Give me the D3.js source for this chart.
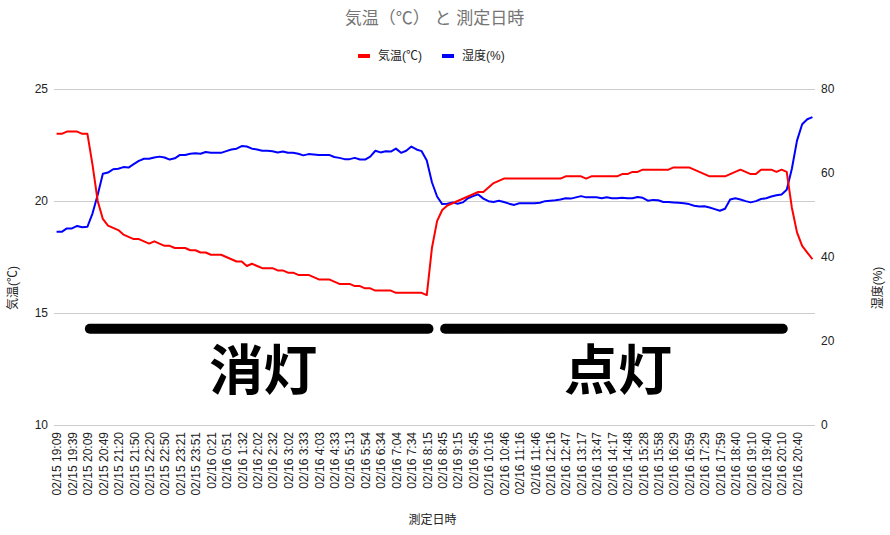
<!DOCTYPE html>
<html>
<head>
<meta charset="utf-8">
<script src="https://cdn.jsdelivr.net/npm/d3@7"></script>
<style>
  body { margin: 0; background: #fff; }
  text { font-family: Arial, "Liberation Sans", "Noto Sans CJK JP", sans-serif; }
</style>
</head>
<body>
<svg id="chart" width="890" height="535"></svg>
<script>
// every 3rd sample is labelled on the x axis
const tickLabels = ['02/15 19:09','02/15 19:39','02/15 20:09','02/15 20:49','02/15 21:20','02/15 21:50',
  '02/15 22:20','02/15 22:50','02/15 23:21','02/15 23:51','02/16 0:21','02/16 0:51','02/16 1:32',
  '02/16 2:02','02/16 2:32','02/16 3:02','02/16 3:33','02/16 4:03','02/16 4:33','02/16 5:13',
  '02/16 5:54','02/16 6:34','02/16 7:04','02/16 7:34','02/16 8:15','02/16 8:45','02/16 9:15',
  '02/16 9:45','02/16 10:16','02/16 10:46','02/16 11:16','02/16 11:46','02/16 12:16','02/16 12:47',
  '02/16 13:17','02/16 13:47','02/16 14:17','02/16 14:48','02/16 15:28','02/16 15:58','02/16 16:29',
  '02/16 16:59','02/16 17:29','02/16 17:59','02/16 18:40','02/16 19:10','02/16 19:40','02/16 20:10',
  '02/16 20:40'];
const labelStep = 3;

// 気温(℃)
const temperature = [
  23.0,23.0,23.1,23.1,23.1,23.0,23.0,21.6,20.0,19.2,
  18.9,18.8,18.7,18.5,18.4,18.3,18.3,18.2,18.1,18.2,
  18.1,18.0,18.0,17.9,17.9,17.9,17.8,17.8,17.7,17.7,
  17.6,17.6,17.6,17.5,17.4,17.3,17.3,17.1,17.2,17.1,
  17.0,17.0,17.0,16.9,16.9,16.8,16.8,16.7,16.7,16.7,
  16.6,16.5,16.5,16.5,16.4,16.3,16.3,16.3,16.2,16.2,
  16.1,16.1,16.0,16.0,16.0,16.0,15.9,15.9,15.9,15.9,
  15.9,15.9,15.8,17.9,19.1,19.6,19.8,19.9,20.0,20.1,
  20.2,20.3,20.4,20.4,20.6,20.8,20.9,21.0,21.0,21.0,
  21.0,21.0,21.0,21.0,21.0,21.0,21.0,21.0,21.0,21.1,
  21.1,21.1,21.1,21.0,21.1,21.1,21.1,21.1,21.1,21.1,
  21.2,21.2,21.3,21.3,21.4,21.4,21.4,21.4,21.4,21.4,
  21.5,21.5,21.5,21.5,21.4,21.3,21.2,21.1,21.1,21.1,
  21.1,21.2,21.3,21.4,21.3,21.2,21.2,21.4,21.4,21.4,
  21.3,21.4,21.3,19.7,18.6,18.0,17.7,17.4];

// 湿度(%)
const humidity = [
  46.0,46.0,46.8,46.8,47.4,47.1,47.2,50.4,54.8,59.8,
  60.1,60.9,61.0,61.4,61.3,62.1,62.9,63.4,63.4,63.7,
  63.9,63.7,63.2,63.5,64.3,64.3,64.6,64.7,64.6,65.0,
  64.8,64.8,64.8,65.2,65.6,65.8,66.4,66.3,65.8,65.6,
  65.3,65.3,65.2,64.9,65.1,64.8,64.8,64.6,64.2,64.5,
  64.4,64.3,64.3,64.3,63.8,63.6,63.3,63.3,63.6,63.2,
  63.2,63.9,65.3,64.9,65.2,65.1,65.8,64.8,65.3,66.3,
  65.6,65.2,63.0,57.8,54.4,52.6,52.7,53.0,52.7,53.0,
  54.0,54.5,54.9,53.9,53.3,53.1,53.4,53.1,52.7,52.4,
  52.8,52.8,52.8,52.8,52.9,53.3,53.4,53.5,53.7,54.0,
  53.9,54.2,54.5,54.2,54.2,54.2,54.0,54.2,54.0,54.0,
  54.1,54.0,54.0,54.3,54.1,53.4,53.6,53.5,53.1,53.1,
  53.0,52.9,52.8,52.6,52.2,52.0,52.1,51.8,51.4,51.0,
  51.5,53.7,54.0,53.7,53.3,53.0,53.3,53.8,54.0,54.4,
  54.7,54.9,56.0,61.0,67.7,71.6,72.8,73.3];

const tempTicks = [10, 15, 20, 25];
const humTicks = [0, 20, 40, 60, 80];

// light-off / light-on periods, in sample index units, bar drawn at a temperature level
const periods = [
  { name: '消灯', from: 5.5, to: 73.3 },
  { name: '点灯', from: 74.6, to: 142.2 }
];
const periodBarLevel = 14.3;
const periodTextLevel = 11.55;

const svg = d3.select('#chart');
const margin = { top: 89, right: 75, bottom: 110, left: 54 };
const width = +svg.attr('width');
const height = +svg.attr('height');
const x0 = margin.left, x1 = width - margin.right;
const y0 = height - margin.bottom, y1 = margin.top;
const n = temperature.length;

const x = d3.scaleLinear().domain([-0.5, n - 0.5]).range([x0, x1]);
const yTemp = d3.scaleLinear().domain([10, 25]).range([y0, y1]);
const yHum = d3.scaleLinear().domain([0, 80]).range([y0, y1]);

// gridlines follow the left axis
svg.append('g').selectAll('line')
  .data(tempTicks)
  .join('line')
  .attr('x1', x0).attr('x2', x1)
  .attr('y1', d => yTemp(d)).attr('y2', d => yTemp(d))
  .attr('stroke', '#cccccc').attr('stroke-width', 1)
  .attr('shape-rendering', 'crispEdges');

const leftAxis = svg.append('g')
  .attr('transform', `translate(${x0},0)`)
  .call(d3.axisLeft(yTemp).tickValues(tempTicks).tickSize(0).tickPadding(6));
const rightAxis = svg.append('g')
  .attr('transform', `translate(${x1},0)`)
  .call(d3.axisRight(yHum).tickValues(humTicks).tickSize(0).tickPadding(6));

const tickIdx = tickLabels.map((_, i) => i * labelStep);
const bottomAxis = svg.append('g')
  .attr('transform', `translate(0,${y0})`)
  .call(d3.axisBottom(x).tickValues(tickIdx).tickSize(0)
    .tickFormat(d => tickLabels[d / labelStep]));
bottomAxis.selectAll('text')
  .attr('transform', 'rotate(-90)')
  .attr('x', -7).attr('y', 0).attr('dy', '0.36em')
  .style('text-anchor', 'end');

[leftAxis, rightAxis, bottomAxis].forEach(g => {
  g.select('.domain').remove();
  g.selectAll('text')
    .style('font-family', 'Arial, "Liberation Sans", sans-serif')
    .style('font-size', '12px')
    .attr('fill', '#222');
});

// series lines
const lineFor = (scale) => d3.line().x((d, i) => x(i)).y(d => scale(d));
svg.append('path').datum(humidity)
  .attr('fill', 'none').attr('stroke', '#0000ff').attr('stroke-width', 2)
  .attr('stroke-linejoin', 'round').attr('d', lineFor(yHum));
svg.append('path').datum(temperature)
  .attr('fill', 'none').attr('stroke', '#ff0000').attr('stroke-width', 2)
  .attr('stroke-linejoin', 'round').attr('d', lineFor(yTemp));

// period annotations
const pg = svg.append('g').selectAll('g').data(periods).join('g');
pg.append('rect')
  .attr('x', d => x(d.from))
  .attr('width', d => x(d.to) - x(d.from))
  .attr('y', yTemp(periodBarLevel) - 5)
  .attr('height', 10).attr('rx', 5).attr('ry', 5)
  .attr('fill', '#000');
pg.append('text')
  .attr('x', d => x((d.from + d.to) / 2) + 4)
  .attr('y', yTemp(periodTextLevel))
  .attr('text-anchor', 'middle')
  .style('font-family', '"Noto Sans CJK JP", sans-serif')
  .style('font-weight', 'bold')
  .style('font-size', '54px')
  .attr('fill', '#000')
  .text(d => d.name);

// titles
svg.append('text')
  .attr('x', (x0 + x1) / 2).attr('y', 24)
  .attr('text-anchor', 'middle')
  .style('font-size', '17px')
  .attr('fill', '#757575')
  .text('気温（℃） と 測定日時');

svg.append('text')
  .attr('x', (x0 + x1) / 2 - 2).attr('y', 524)
  .attr('text-anchor', 'middle')
  .style('font-size', '12px').attr('fill', '#222')
  .text('測定日時');

svg.append('text')
  .attr('transform', 'translate(17,288) rotate(-90)')
  .attr('text-anchor', 'middle')
  .style('font-size', '12px').attr('fill', '#222')
  .text('気温(℃)');

svg.append('text')
  .attr('transform', 'translate(882,288) rotate(-90)')
  .attr('text-anchor', 'middle')
  .style('font-size', '12px').attr('fill', '#222')
  .text('湿度(%)');

// legend
const legendItems = [
  { name: '気温(℃)', color: '#ff0000', x: 358 },
  { name: '湿度(%)', color: '#0000ff', x: 442 }
];
const lg = svg.append('g').selectAll('g').data(legendItems).join('g')
  .attr('transform', d => `translate(${d.x},0)`);
lg.append('rect')
  .attr('x', 0).attr('y', 54).attr('width', 12).attr('height', 4)
  .attr('fill', d => d.color);
lg.append('text')
  .attr('x', 20).attr('y', 60)
  .style('font-size', '12px').attr('fill', '#222')
  .text(d => d.name);
</script>
</body>
</html>
